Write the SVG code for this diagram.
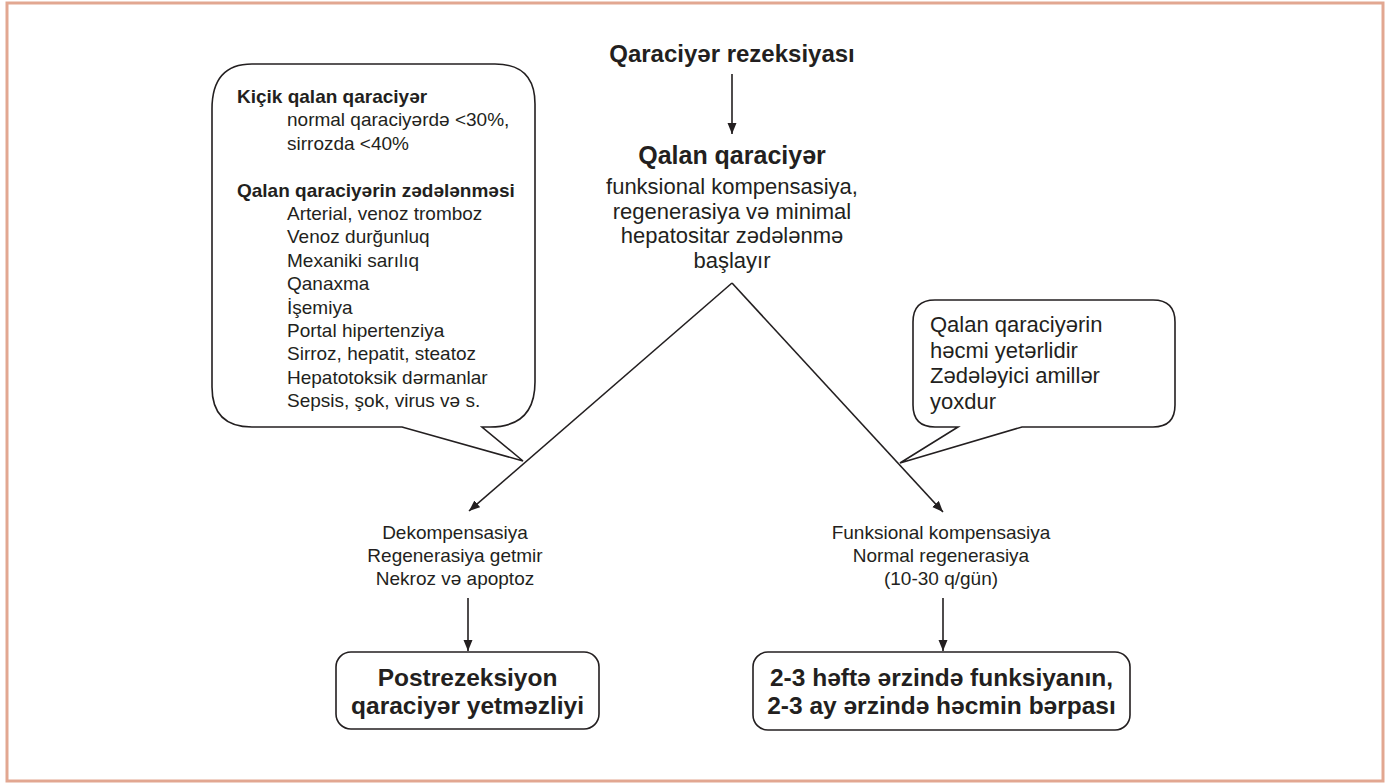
<svg xmlns="http://www.w3.org/2000/svg" width="1388" height="783" viewBox="0 0 1388 783">
<style>
text{font-family:"Liberation Sans",Arial,sans-serif;fill:#231f20}
.b{font-weight:bold}
.c{text-anchor:middle}
.shape{fill:#fff;stroke:#231f20;stroke-width:1.6;stroke-linejoin:miter}
.conn{stroke:#231f20;stroke-width:1.6;fill:none}
</style>
<defs>
<marker id="ah" markerUnits="userSpaceOnUse" markerWidth="12" markerHeight="10" refX="11" refY="4.5" orient="auto">
<path d="M0,0 L11,4.5 L0,9 z" fill="#231f20"/>
</marker>
</defs>
<rect x="7" y="3" width="1376" height="778" fill="#fff" stroke="#e2a791" stroke-width="3"/>
<g id="connectors">
<line class="conn" x1="732" y1="74" x2="732" y2="134" marker-end="url(#ah)"/>
<line class="conn" x1="732" y1="283" x2="469" y2="511" marker-end="url(#ah)"/>
<line class="conn" x1="732" y1="283" x2="943" y2="512" marker-end="url(#ah)"/>
<line class="conn" x1="468" y1="598" x2="468" y2="651" marker-end="url(#ah)"/>
<line class="conn" x1="943" y1="598" x2="943" y2="651" marker-end="url(#ah)"/>
</g>
<g id="title">
<text class="b c" x="732" y="62" font-size="24">Qaraciyər rezeksiyası</text>
</g>
<g id="remnant">
<text class="b c" x="732" y="164" font-size="25">Qalan qaraciyər</text>
<text class="c" x="732" y="194" font-size="22">funksional kompensasiya,</text>
<text class="c" x="732" y="219" font-size="22">regenerasiya və minimal</text>
<text class="c" x="732" y="243" font-size="22">hepatositar zədələnmə</text>
<text class="c" x="732" y="268" font-size="22">başlayır</text>
</g>
<g id="left-callout">
<path class="shape" d="M252,64 H495 Q535,64 535,104 V382 Q535,427 490,427 H482 L523,461 L402,427 H252 Q212,427 212,387 V109 Q212,64 252,64 Z"/>
<text class="b" x="237" y="103" font-size="19">Kiçik qalan qaraciyər</text>
<text x="287" y="126.4" font-size="19">normal qaraciyərdə &lt;30%,</text>
<text x="287" y="149.8" font-size="19">sirrozda &lt;40%</text>
<text class="b" x="237" y="196.6" font-size="19">Qalan qaraciyərin zədələnməsi</text>
<text x="287" y="220" font-size="19">Arterial, venoz tromboz</text>
<text x="287" y="243.4" font-size="19">Venoz durğunluq</text>
<text x="287" y="266.8" font-size="19">Mexaniki sarılıq</text>
<text x="287" y="290.2" font-size="19">Qanaxma</text>
<text x="287" y="313.6" font-size="19">İşemiya</text>
<text x="287" y="337" font-size="19">Portal hipertenziya</text>
<text x="287" y="360.4" font-size="19">Sirroz, hepatit, steatoz</text>
<text x="287" y="383.8" font-size="19">Hepatotoksik dərmanlar</text>
<text x="287" y="407.2" font-size="19">Sepsis, şok, virus və s.</text>
</g>
<g id="right-callout">
<path class="shape" d="M935,300 H1153 Q1175,300 1175,322 V405 Q1175,427 1153,427 H1022 L900,463 L958,427 H935 Q913,427 913,405 V322 Q913,300 935,300 Z"/>
<text x="930" y="332" font-size="22">Qalan qaraciyərin</text>
<text x="930" y="357.5" font-size="22">həcmi yetərlidir</text>
<text x="930" y="383" font-size="22">Zədələyici amillər</text>
<text x="930" y="408.5" font-size="22">yoxdur</text>
</g>
<g id="left-outcome">
<text class="c" x="455" y="539" font-size="19">Dekompensasiya</text>
<text class="c" x="455" y="562" font-size="19">Regenerasiya getmir</text>
<text class="c" x="455" y="585" font-size="19">Nekroz və apoptoz</text>
</g>
<g id="right-outcome">
<text class="c" x="941" y="539" font-size="19">Funksional kompensasiya</text>
<text class="c" x="941" y="562" font-size="19">Normal regenerasiya</text>
<text class="c" x="941" y="585" font-size="19">(10-30 q/gün)</text>
</g>
<g id="failure-box">
<rect class="shape" x="336" y="652" width="263" height="77" rx="15"/>
<text class="b c" x="467.5" y="686" font-size="24.5">Postrezeksiyon</text>
<text class="b c" x="467.5" y="714" font-size="24.5">qaraciyər yetməzliyi</text>
</g>
<g id="recovery-box">
<rect class="shape" x="753" y="652" width="377" height="78" rx="15"/>
<text class="b c" x="941.5" y="686" font-size="24.5">2-3 həftə ərzində funksiyanın,</text>
<text class="b c" x="941.5" y="714" font-size="24.5">2-3 ay ərzində həcmin bərpası</text>
</g>
</svg>
